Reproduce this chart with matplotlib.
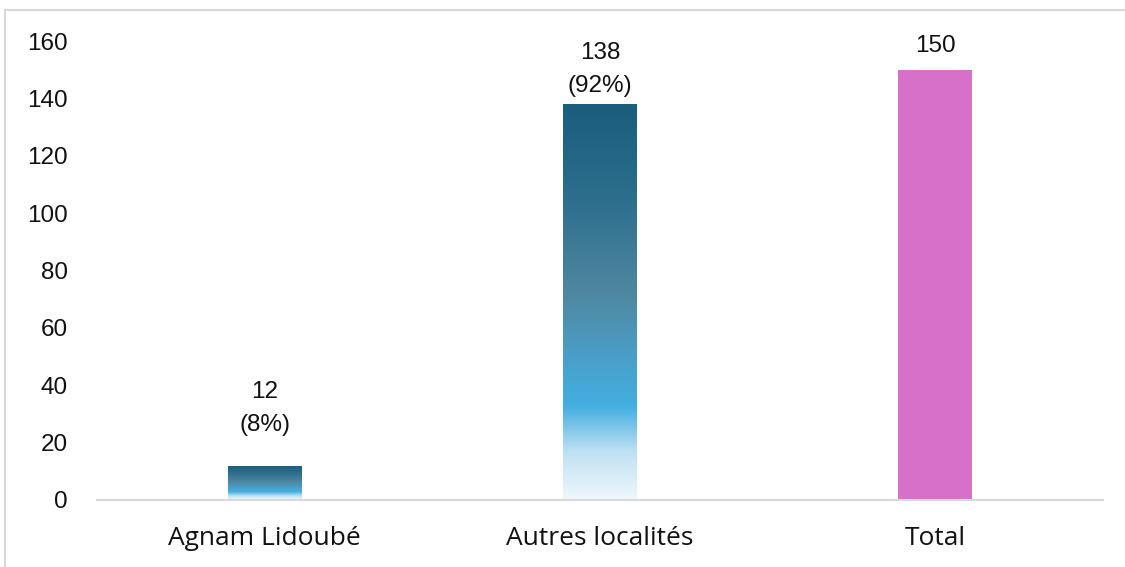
import matplotlib
matplotlib.use('Agg')
import matplotlib.pyplot as plt
import numpy as np
from matplotlib.colors import LinearSegmentedColormap
from matplotlib.patches import Rectangle

# data
categories = ['Agnam Lidoubé', 'Autres localités', 'Total']
values = [12, 138, 150]
pct_labels = ['8%', '92%', None]
y_ticks = [0, 20, 40, 60, 80, 100, 120, 140, 160]

# label offsets above bar top (points)
label_offsets = [21, 5, 9]

plt.rcParams['font.family'] = ['Liberation Sans', 'DejaVu Sans']

fig = plt.figure(figsize=(11.25, 5.67), dpi=100)
ax = fig.add_axes([97 / 1125, 67 / 567, 1006 / 1125, 459 / 567])

# light grey frame around the chart area
fig.patches.append(Rectangle((5 / 1125, -0.05), 1.2, (557 / 567) + 0.05,
                             transform=fig.transFigure, fill=False,
                             edgecolor='#d9d9d9', linewidth=1.5))

grad = LinearSegmentedColormap.from_list('blue_grad', [
    (0.00, '#eef7fc'),
    (0.12, '#bfe1f3'),
    (0.235, '#44afe1'),
    (0.38, '#4a9cc4'),
    (0.52, '#4f88a0'),
    (0.75, '#2e6f8e'),
    (1.00, '#1a5d7c'),
])

x = np.arange(len(categories))
bar_w = 0.22
colors = ['none', 'none', '#d670c8']
bars = ax.bar(x, values, width=bar_w, color=colors, edgecolor='none', zorder=2)

gradient = np.linspace(0, 1, 256).reshape(-1, 1)
for i, b in enumerate(bars):
    if categories[i] == 'Total':
        continue
    x0, y0 = b.get_x(), b.get_y()
    w, h = b.get_width(), b.get_height()
    im = ax.imshow(gradient, cmap=grad, origin='lower', aspect='auto',
                   extent=[x0, x0 + w, y0, y0 + h], zorder=2,
                   interpolation='bicubic')
    im.set_clip_path(b)

for i, b in enumerate(bars):
    txt = str(values[i])
    if pct_labels[i]:
        txt += '\n(' + pct_labels[i] + ')'
    ax.annotate(txt, (b.get_x() + b.get_width() / 2, b.get_height()),
                xytext=(0, label_offsets[i]), textcoords='offset points',
                ha='center', va='bottom', fontsize=17.5, linespacing=1.65,
                color='#111111')

ax.set_xlim(-0.5, 2.5)
ax.set_ylim(0, 160)
ax.set_yticks(y_ticks)
ax.set_xticks(x)
ax.set_xticklabels(categories, family=['Open Sans', 'DejaVu Sans'])
ax.tick_params(axis='y', length=0, pad=21, labelsize=17.5, labelcolor='#111111')
ax.tick_params(axis='x', length=0, pad=19, labelsize=19, labelcolor='#111111')

for s in ['top', 'right', 'left']:
    ax.spines[s].set_visible(False)
ax.spines['bottom'].set_color('#d9d9d9')
ax.spines['bottom'].set_linewidth(1.5)

fig.savefig('out.png', dpi=100)
